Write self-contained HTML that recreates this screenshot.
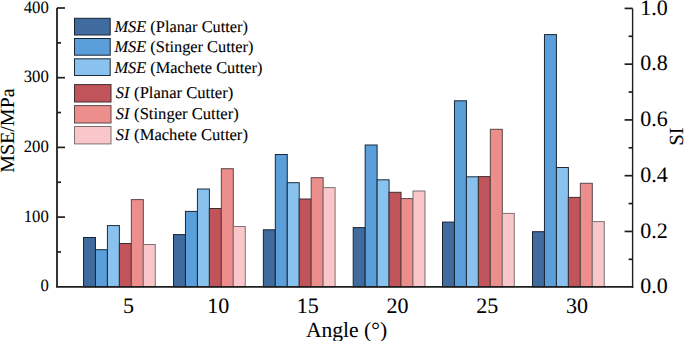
<!DOCTYPE html>
<html><head><meta charset="utf-8"><style>
html,body{margin:0;padding:0;background:#fff;width:685px;height:341px;overflow:hidden}
svg{display:block}
text{font-family:"Liberation Serif",serif;fill:#000;white-space:pre;font-kerning:none;text-rendering:geometricPrecision}
</style></head><body>
<svg width="685" height="341" viewBox="0 0 685 341"><rect x="83.50" y="237.50" width="11.96" height="49.30" fill="#3f6b9f" stroke="#1a2433" stroke-width="1"/><rect x="95.46" y="249.70" width="11.96" height="37.10" fill="#5a9fda" stroke="#1a2633" stroke-width="1"/><rect x="107.42" y="225.60" width="11.96" height="61.20" fill="#89c2ee" stroke="#1e2a36" stroke-width="1"/><rect x="119.38" y="243.50" width="11.96" height="43.30" fill="#c0545a" stroke="#3e2e30" stroke-width="1"/><rect x="131.34" y="199.60" width="11.96" height="87.20" fill="#eb8e8c" stroke="#5a4848" stroke-width="1"/><rect x="143.30" y="244.50" width="11.96" height="42.30" fill="#f9c6ca" stroke="#7c7272" stroke-width="1"/><rect x="173.50" y="234.60" width="11.96" height="52.20" fill="#3f6b9f" stroke="#1a2433" stroke-width="1"/><rect x="185.46" y="211.40" width="11.96" height="75.40" fill="#5a9fda" stroke="#1a2633" stroke-width="1"/><rect x="197.42" y="189.00" width="11.96" height="97.80" fill="#89c2ee" stroke="#1e2a36" stroke-width="1"/><rect x="209.38" y="208.50" width="11.96" height="78.30" fill="#c0545a" stroke="#3e2e30" stroke-width="1"/><rect x="221.34" y="168.70" width="11.96" height="118.10" fill="#eb8e8c" stroke="#5a4848" stroke-width="1"/><rect x="233.30" y="226.50" width="11.96" height="60.30" fill="#f9c6ca" stroke="#7c7272" stroke-width="1"/><rect x="263.35" y="229.80" width="11.96" height="57.00" fill="#3f6b9f" stroke="#1a2433" stroke-width="1"/><rect x="275.31" y="154.50" width="11.96" height="132.30" fill="#5a9fda" stroke="#1a2633" stroke-width="1"/><rect x="287.27" y="182.70" width="11.96" height="104.10" fill="#89c2ee" stroke="#1e2a36" stroke-width="1"/><rect x="299.23" y="199.00" width="11.96" height="87.80" fill="#c0545a" stroke="#3e2e30" stroke-width="1"/><rect x="311.19" y="177.70" width="11.96" height="109.10" fill="#eb8e8c" stroke="#5a4848" stroke-width="1"/><rect x="323.15" y="187.60" width="11.96" height="99.20" fill="#f9c6ca" stroke="#7c7272" stroke-width="1"/><rect x="353.20" y="227.60" width="11.96" height="59.20" fill="#3f6b9f" stroke="#1a2433" stroke-width="1"/><rect x="365.16" y="145.00" width="11.96" height="141.80" fill="#5a9fda" stroke="#1a2633" stroke-width="1"/><rect x="377.12" y="179.80" width="11.96" height="107.00" fill="#89c2ee" stroke="#1e2a36" stroke-width="1"/><rect x="389.08" y="192.30" width="11.96" height="94.50" fill="#c0545a" stroke="#3e2e30" stroke-width="1"/><rect x="401.04" y="198.60" width="11.96" height="88.20" fill="#eb8e8c" stroke="#5a4848" stroke-width="1"/><rect x="413.00" y="191.00" width="11.96" height="95.80" fill="#f9c6ca" stroke="#7c7272" stroke-width="1"/><rect x="442.50" y="222.10" width="11.96" height="64.70" fill="#3f6b9f" stroke="#1a2433" stroke-width="1"/><rect x="454.46" y="100.80" width="11.96" height="186.00" fill="#5a9fda" stroke="#1a2633" stroke-width="1"/><rect x="466.42" y="176.80" width="11.96" height="110.00" fill="#89c2ee" stroke="#1e2a36" stroke-width="1"/><rect x="478.38" y="176.60" width="11.96" height="110.20" fill="#c0545a" stroke="#3e2e30" stroke-width="1"/><rect x="490.34" y="129.30" width="11.96" height="157.50" fill="#eb8e8c" stroke="#5a4848" stroke-width="1"/><rect x="502.30" y="213.40" width="11.96" height="73.40" fill="#f9c6ca" stroke="#7c7272" stroke-width="1"/><rect x="532.50" y="231.70" width="11.96" height="55.10" fill="#3f6b9f" stroke="#1a2433" stroke-width="1"/><rect x="544.46" y="34.60" width="11.96" height="252.20" fill="#5a9fda" stroke="#1a2633" stroke-width="1"/><rect x="556.42" y="167.50" width="11.96" height="119.30" fill="#89c2ee" stroke="#1e2a36" stroke-width="1"/><rect x="568.38" y="197.40" width="11.96" height="89.40" fill="#c0545a" stroke="#3e2e30" stroke-width="1"/><rect x="580.34" y="183.30" width="11.96" height="103.50" fill="#eb8e8c" stroke="#5a4848" stroke-width="1"/><rect x="592.30" y="221.60" width="11.96" height="65.20" fill="#f9c6ca" stroke="#7c7272" stroke-width="1"/><path d="M57.0 8 V286.8" fill="none" stroke="#2c2c2c" stroke-width="1.9"/><path d="M56.05 286.8 H633.3000000000001" fill="none" stroke="#1e1e1e" stroke-width="1.8"/><path d="M632.6 8.5 V287.7" fill="none" stroke="#1e1e1e" stroke-width="1.4"/><line x1="57.0" y1="251.95" x2="61.0" y2="251.95" stroke="#1e1e1e" stroke-width="1.7"/><line x1="57.0" y1="217.10" x2="65.0" y2="217.10" stroke="#1e1e1e" stroke-width="1.7"/><line x1="57.0" y1="182.25" x2="61.0" y2="182.25" stroke="#1e1e1e" stroke-width="1.7"/><line x1="57.0" y1="147.40" x2="65.0" y2="147.40" stroke="#1e1e1e" stroke-width="1.7"/><line x1="57.0" y1="112.55" x2="61.0" y2="112.55" stroke="#1e1e1e" stroke-width="1.7"/><line x1="57.0" y1="77.70" x2="65.0" y2="77.70" stroke="#1e1e1e" stroke-width="1.7"/><line x1="57.0" y1="42.85" x2="61.0" y2="42.85" stroke="#1e1e1e" stroke-width="1.7"/><line x1="57.0" y1="8.00" x2="65.0" y2="8.00" stroke="#1e1e1e" stroke-width="1.7"/><line x1="632.6" y1="259.32" x2="628.6" y2="259.32" stroke="#1e1e1e" stroke-width="1.7"/><line x1="632.6" y1="231.44" x2="624.6" y2="231.44" stroke="#1e1e1e" stroke-width="1.7"/><line x1="632.6" y1="203.56" x2="628.6" y2="203.56" stroke="#1e1e1e" stroke-width="1.7"/><line x1="632.6" y1="175.68" x2="624.6" y2="175.68" stroke="#1e1e1e" stroke-width="1.7"/><line x1="632.6" y1="147.80" x2="628.6" y2="147.80" stroke="#1e1e1e" stroke-width="1.7"/><line x1="632.6" y1="119.92" x2="624.6" y2="119.92" stroke="#1e1e1e" stroke-width="1.7"/><line x1="632.6" y1="92.04" x2="628.6" y2="92.04" stroke="#1e1e1e" stroke-width="1.7"/><line x1="632.6" y1="64.16" x2="624.6" y2="64.16" stroke="#1e1e1e" stroke-width="1.7"/><line x1="632.6" y1="36.28" x2="628.6" y2="36.28" stroke="#1e1e1e" stroke-width="1.7"/><line x1="632.6" y1="8.40" x2="624.6" y2="8.40" stroke="#1e1e1e" stroke-width="1.7"/><text transform="translate(48.80 291.40) scale(0.965 1.0)" font-size="17.3" text-anchor="end" stroke="#000" stroke-width="0.06">0</text><text transform="translate(48.80 221.70) scale(0.965 1.0)" font-size="17.3" text-anchor="end" stroke="#000" stroke-width="0.06">100</text><text transform="translate(48.80 152.00) scale(0.965 1.0)" font-size="17.3" text-anchor="end" stroke="#000" stroke-width="0.06">200</text><text transform="translate(48.80 82.30) scale(0.965 1.0)" font-size="17.3" text-anchor="end" stroke="#000" stroke-width="0.06">300</text><text transform="translate(48.80 12.60) scale(0.965 1.0)" font-size="17.3" text-anchor="end" stroke="#000" stroke-width="0.06">400</text><text transform="translate(640.20 293.30)" font-size="22" stroke="#000" stroke-width="0.06">0.0</text><text transform="translate(640.20 237.54)" font-size="22" stroke="#000" stroke-width="0.06">0.2</text><text transform="translate(640.20 181.78)" font-size="22" stroke="#000" stroke-width="0.06">0.4</text><text transform="translate(640.20 126.02)" font-size="22" stroke="#000" stroke-width="0.06">0.6</text><text transform="translate(640.20 70.26)" font-size="22" stroke="#000" stroke-width="0.06">0.8</text><text transform="translate(640.20 14.50)" font-size="22" stroke="#000" stroke-width="0.06">1.0</text><text transform="translate(128.45 312.60)" font-size="22" text-anchor="middle" stroke="#000" stroke-width="0.06">5</text><text transform="translate(218.15 312.60)" font-size="22" text-anchor="middle" stroke="#000" stroke-width="0.06">10</text><text transform="translate(307.85 312.60)" font-size="22" text-anchor="middle" stroke="#000" stroke-width="0.06">15</text><text transform="translate(397.55 312.60)" font-size="22" text-anchor="middle" stroke="#000" stroke-width="0.06">20</text><text transform="translate(487.25 312.60)" font-size="22" text-anchor="middle" stroke="#000" stroke-width="0.06">25</text><text transform="translate(576.95 312.60)" font-size="22" text-anchor="middle" stroke="#000" stroke-width="0.06">30</text><text transform="translate(346.50 336.90)" font-size="21.6" text-anchor="middle" stroke="#000" stroke-width="0.06">Angle (°)</text><text transform="translate(14.3 130.6) rotate(-90)" font-size="20" text-anchor="middle" stroke="#000" stroke-width="0.06">MSE/MPa</text><text transform="translate(682.5 136.5) rotate(-90)" font-size="20" text-anchor="middle" stroke="#000" stroke-width="0.06">SI</text><rect x="74.5" y="18.30" width="35.7" height="16.7" fill="#3f6b9f" stroke="#1a2433" stroke-width="1"/><text transform="translate(114.50 31.80)" font-size="16.35" stroke="#000" stroke-width="0.1"><tspan font-style="italic">MSE</tspan> (Planar Cutter)</text><rect x="74.5" y="38.50" width="35.7" height="16.7" fill="#5a9fda" stroke="#1a2633" stroke-width="1"/><text transform="translate(114.50 52.30)" font-size="16.35" stroke="#000" stroke-width="0.1"><tspan font-style="italic">MSE</tspan> (Stinger Cutter)</text><rect x="74.5" y="58.80" width="35.7" height="16.7" fill="#89c2ee" stroke="#1e2a36" stroke-width="1"/><text transform="translate(114.50 72.60)" font-size="16.35" stroke="#000" stroke-width="0.1"><tspan font-style="italic">MSE</tspan> (Machete Cutter)</text><rect x="74.5" y="84.60" width="36.5" height="17.4" fill="#c0545a" stroke="#3e2e30" stroke-width="1"/><text transform="translate(115.80 98.40)" font-size="16.4" stroke="#000" stroke-width="0.1"><tspan font-style="italic">SI</tspan></text><text transform="translate(129.96 98.40)" font-size="16.6" stroke="#000" stroke-width="0.1"> (Planar Cutter)</text><rect x="74.5" y="105.60" width="36.5" height="17.4" fill="#eb8e8c" stroke="#5a4848" stroke-width="1"/><text transform="translate(115.80 119.40)" font-size="16.4" stroke="#000" stroke-width="0.1"><tspan font-style="italic">SI</tspan></text><text transform="translate(129.96 119.40)" font-size="16.6" stroke="#000" stroke-width="0.1"> (Stinger Cutter)</text><rect x="74.5" y="126.50" width="36.5" height="17.4" fill="#f9c6ca" stroke="#7c7272" stroke-width="1"/><text transform="translate(115.80 140.30)" font-size="16.4" stroke="#000" stroke-width="0.1"><tspan font-style="italic">SI</tspan></text><text transform="translate(129.96 140.30)" font-size="16.6" stroke="#000" stroke-width="0.1"> (Machete Cutter)</text></svg>
</body></html>
